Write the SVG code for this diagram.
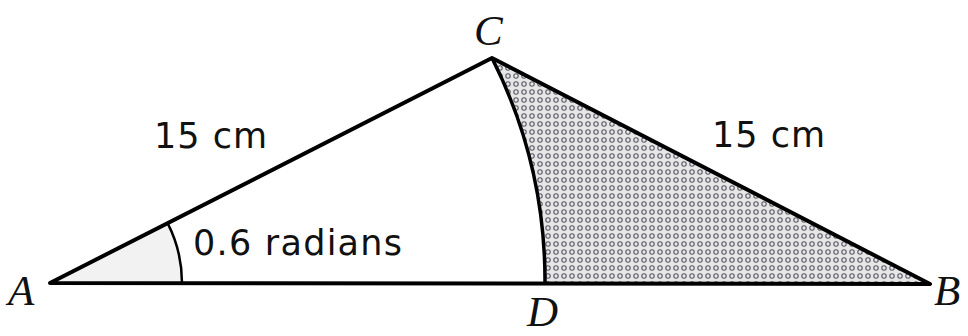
<svg xmlns="http://www.w3.org/2000/svg" width="968" height="336" viewBox="0 0 968 336">
<style>
.edge{fill:none;stroke:#000;stroke-width:4;stroke-linejoin:round;stroke-linecap:round}
.lbl{font-family:"DejaVu Sans",Verdana,sans-serif;font-size:35px;fill:#111}
.pt{font-family:"Liberation Serif","Times New Roman",serif;font-style:italic;font-size:43px;fill:#111}
</style>
<defs>
<pattern id="dots" width="8" height="8" patternUnits="userSpaceOnUse">
<rect width="8" height="8" fill="#e6e6e6"/>
<circle cx="4" cy="4" r="2.2" fill="none" stroke="#5a5a68" stroke-width="1.1"/>
</pattern>
</defs>
<g id="shaded">
<path d="M492,58 L930,284 L545,284 A495,495 0 0,0 492,58 Z" fill="url(#dots)"/>
</g>
<g id="angle">
<path d="M50,283 L182,283 A132,132 0 0,0 167.6,223.1 Z" fill="#f2f2f2" stroke="none"/>
<path d="M182,283 A132,132 0 0,0 167.6,223.1" fill="none" stroke="#000" stroke-width="2.5"/>
</g>
<g id="connectors">
<path class="edge" d="M50,283 L492,58 L930,284 Z"/>
<path d="M492,58 A495,495 0 0,1 545,283" fill="none" stroke="#000" stroke-width="3.5"/>
</g>
<g id="A"><text class="pt" x="8" y="305">A</text></g>
<g id="B"><text class="pt" x="934" y="305">B</text></g>
<g id="C"><text class="pt" x="474" y="45">C</text></g>
<g id="D"><text class="pt" x="527" y="326">D</text></g>
<g id="labels">
<text class="lbl" x="154" y="148" textLength="113" lengthAdjust="spacing">15 cm</text>
<text class="lbl" x="712" y="147" textLength="113" lengthAdjust="spacing">15 cm</text>
<text class="lbl" x="193" y="255" textLength="209" lengthAdjust="spacing">0.6 radians</text>
</g>
</svg>
